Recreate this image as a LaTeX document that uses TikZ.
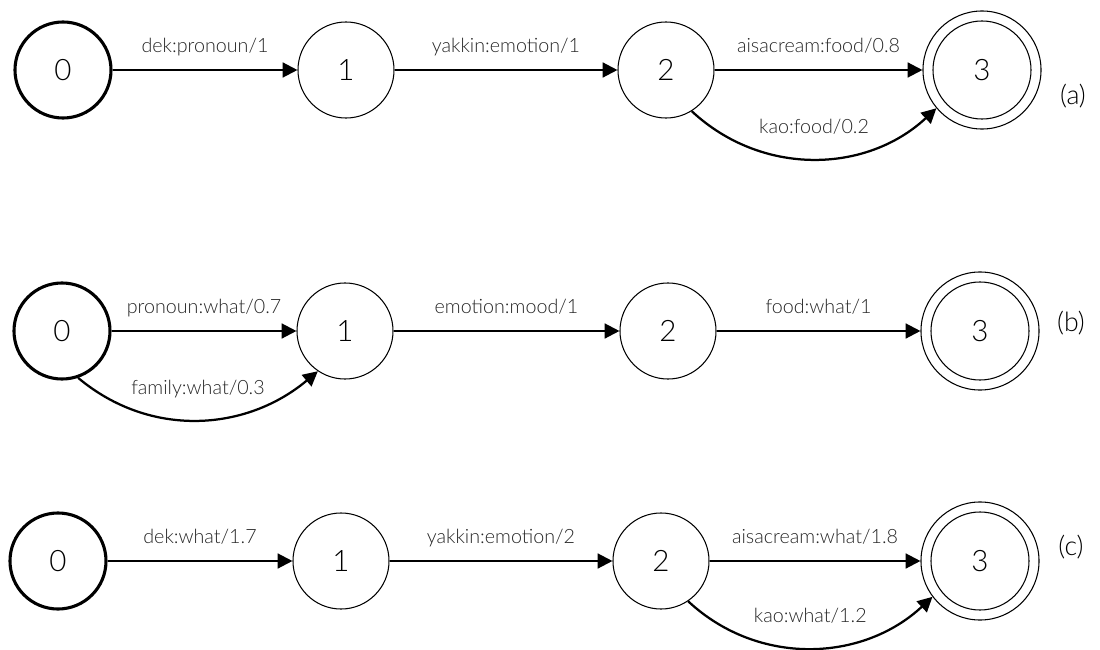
\documentclass[tikz,border=0pt]{standalone}
\usepackage{fontspec}
\setmainfont{Lato Light}
\usetikzlibrary{arrows.meta}

\begin{document}
\begin{tikzpicture}[x=0.025cm, y=-0.025cm,
  state/.style={circle, draw, line width=0.75pt, minimum size=2.4cm,
    inner sep=0pt, font=\fontsize{21}{21}\selectfont},
  start/.style={state, line width=2.2pt},
  final/.style={state, minimum size=2.95cm,
    path picture={\draw[line width=0.75pt]
      (path picture bounding box.center) circle (1.225cm);}},
  tr/.style={line width=1.6pt, -{Triangle[length=10.5pt, width=10.5pt]}},
  lab/.style={midway, anchor=base, yshift=0.425cm, inner sep=0pt,
    text=black!85, font=\fontsize{14}{14}\selectfont},
  clab/.style={midway, anchor=base, yshift=0.625cm, inner sep=0pt,
    text=black!85, font=\fontsize{14}{14}\selectfont},
  tag/.style={font=\fontsize{19}{19}\selectfont, inner sep=0pt}
]
\useasboundingbox (0,0) rectangle (1100,650);

% (a) word-to-class transducer
\node[start] (a0) at (63,70) {0};
\node[state] (a1) at (346,70) {1};
\node[state] (a2) at (666,70) {2};
\node[final] (a3) at (982,70) {3};
\node[tag] (ta) at (1073,96) {(a)};
\draw[tr] (a0) -- node[lab]{dek:pronoun/1} (a1);
\draw[tr] (a1) -- node[lab]{yakkin:emotion/1} (a2);
\draw[tr] (a2) -- node[lab]{aisacream:food/0.8} (a3);
\draw[tr] (a2.-58) to[out=-43, in=-137] node[clab]{kao:food/0.2} (a3.-140);

% (b) class-to-intent transducer
\node[start] (b0) at (62,331) {0};
\node[state] (b1) at (345,331) {1};
\node[state] (b2) at (668,331) {2};
\node[final] (b3) at (980,331) {3};
\node[tag] (tb) at (1071,323) {(b)};
\draw[tr] (b0) -- node[lab]{pronoun:what/0.7} (b1);
\draw[tr] (b0.-71) to[out=-40, in=-140] node[clab]{family:what/0.3} (b1.-124);
\draw[tr] (b1) -- node[lab]{emotion:mood/1} (b2);
\draw[tr] (b2) -- node[lab]{food:what/1} (b3);

% (c) composed transducer
\node[start] (c0) at (58,561) {0};
\node[state] (c1) at (341,561) {1};
\node[state] (c2) at (661,561) {2};
\node[final] (c3) at (980,561) {3};
\node[tag] (tc) at (1071,547) {(c)};
\draw[tr] (c0) -- node[lab]{dek:what/1.7} (c1);
\draw[tr] (c1) -- node[lab]{yakkin:emotion/2} (c2);
\draw[tr] (c2) -- node[lab]{aisacream:what/1.8} (c3);
\draw[tr] (c2.-56) to[out=-43, in=-137] node[clab]{kao:what/1.2} (c3.-143);
\end{tikzpicture}
\end{document}
